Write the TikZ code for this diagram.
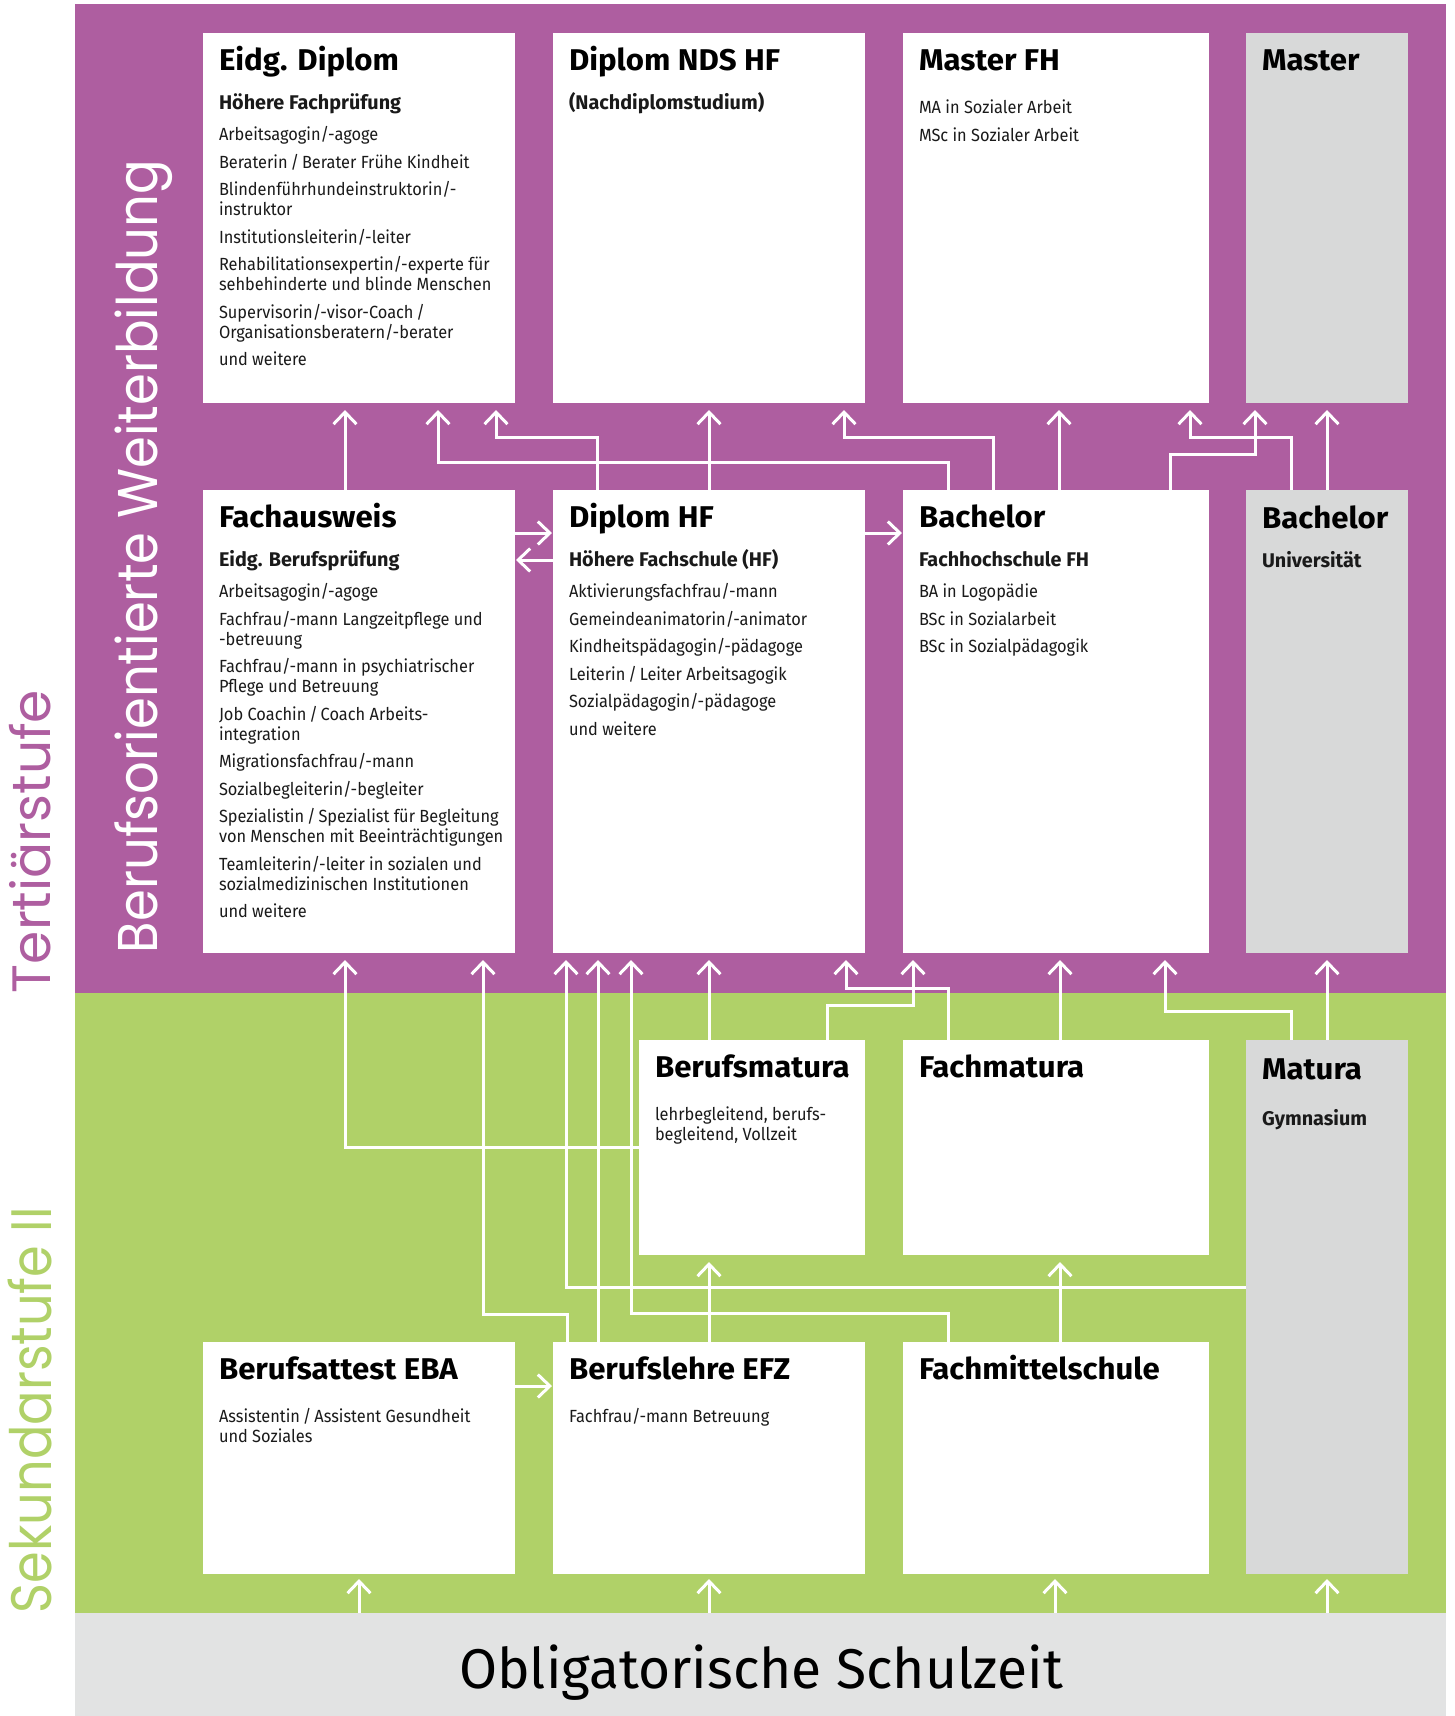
\documentclass[tikz,border=0pt]{standalone}
\usepackage{fontspec}
\setmainfont{Fira Sans}
\newfontfamily\labelfont{Poppins}
\newfontfamily\itemfont[FakeStretch=0.93]{Fira Sans}
\newfontfamily\titlefont[FakeStretch=1.04]{Fira Sans}
\usepackage{graphicx}
\usetikzlibrary{arrows.meta}
\definecolor{purp}{RGB}{174,94,160}
\definecolor{grn}{RGB}{176,209,104}
\definecolor{boxgray}{RGB}{216,217,217}
\definecolor{bandgray}{RGB}{226,227,227}
\definecolor{ink}{RGB}{26,26,26}
\newlength\fitlen
\newcommand\fitto[2]{\settowidth\fitlen{#2}\pgfmathsetmacro\fitsx{#1/\fitlen}\scalebox{\fitsx}[1]{#2}}
\newcommand\itemsbox[1]{\vtop{\hsize=420pt\parindent=0pt\parskip=7.5pt\baselineskip=20pt\leftskip=0pt\rightskip=0pt plus 1fil\relax #1}}
\tikzset{
  region/.style={rectangle, inner sep=0pt, outer sep=0pt, anchor=north west},
  card/.style={rectangle, fill=white, inner sep=0pt, outer sep=0pt, anchor=north west},
  graycard/.style={card, fill=boxgray},
  ttl/.style={anchor=base west, inner sep=0pt, outer sep=0pt, text=black, font=\titlefont\fontsize{30}{32}\selectfont\bfseries},
  subt/.style={anchor=base west, inner sep=0pt, outer sep=0pt, text=ink, font=\fontsize{19.8}{20}\selectfont\bfseries},
  lst/.style={anchor=base west, inner sep=0pt, outer sep=0pt, text=ink, font=\itemfont\fontsize{17.6}{20}\selectfont},
  vlabel/.style={rotate=90, anchor=base west, inner sep=0pt, outer sep=0pt},
  arr/.style={draw=white, line width=3pt, -{Straight Barb[length=12pt,width=23pt]}, shorten >=7pt},
  arrh/.style={draw=white, line width=3pt, -{Straight Barb[length=12pt,width=23pt]}, shorten >=1pt},
}
\begin{document}
\begin{tikzpicture}[x=1pt,y=-1pt]
\useasboundingbox (0,0) rectangle (1454,1716);
\fill[white] (0,0) rectangle (1454,1716);

% regions
\node[region, fill=purp, minimum width=1371pt, minimum height=989pt] (tert) at (75,4) {};
\node[region, fill=grn, minimum width=1371pt, minimum height=620pt] (sek) at (75,993) {};
\node[region, fill=bandgray, minimum width=1371pt, minimum height=103pt] (oblig) at (75,1613) {};

% side labels
\node[vlabel, text=purp, font=\labelfont\fontsize{54}{60}\selectfont] (tertL) at (50,993) {\fitto{303}{Tertiärstufe}};
\node[vlabel, text=grn, font=\labelfont\fontsize{57}{60}\selectfont] (sekL) at (51,1613) {\fitto{406}{Sekundarstufe II}};
\node[vlabel, text=white, font=\labelfont\fontsize{56}{60}\selectfont] (weitL) at (157,953) {\fitto{793}{Berufsorientierte Weiterbildung}};
\node[anchor=base, inner sep=0pt, text=black, font=\fontsize{56}{60}\selectfont] (obligL) at (761,1688) {\fitto{604}{Obligatorische Schulzeit}};

% boxes row 1
\node[card, minimum width=312pt, minimum height=370pt] (eidg) at (203,33) {};
\node[card, minimum width=312pt, minimum height=370pt] (nds) at (553,33) {};
\node[card, minimum width=306pt, minimum height=370pt] (mfh) at (903,33) {};
\node[graycard, minimum width=162pt, minimum height=370pt] (mas) at (1246,33) {};
% row 2
\node[card, minimum width=312pt, minimum height=463pt] (fach) at (203,490) {};
\node[card, minimum width=312pt, minimum height=463pt] (dhf) at (553,490) {};
\node[card, minimum width=306pt, minimum height=463pt] (bfh) at (903,490) {};
\node[graycard, minimum width=162pt, minimum height=463pt] (buni) at (1246,490) {};
% row 3
\node[card, minimum width=226pt, minimum height=215pt] (bm) at (639,1040) {};
\node[card, minimum width=306pt, minimum height=215pt] (fm) at (903,1040) {};
\node[graycard, minimum width=162pt, minimum height=534pt] (mat) at (1246,1040) {};
% row 4
\node[card, minimum width=312pt, minimum height=232pt] (eba) at (203,1342) {};
\node[card, minimum width=312pt, minimum height=232pt] (efz) at (553,1342) {};
\node[card, minimum width=306pt, minimum height=232pt] (fms) at (903,1342) {};

% texts
\node[ttl] (eidgT) at ([shift={(16,37.5)}]eidg.north west) {Eidg. Diplom};
\node[subt] (eidgS) at ([shift={(16,76.5)}]eidg.north west) {Höhere Fachprüfung};
\node[lst] (eidgI) at ([shift={(16,107.5)}]eidg.north west) {\itemsbox{%
Arbeitsagogin/-agoge\par
Beraterin\,/\,Berater Frühe Kindheit\par
Blindenführhundeinstruktorin/-\newline instruktor\par
Institutionsleiterin/-leiter\par
Rehabilitationsexpertin/-experte für\newline sehbehinderte und blinde Menschen\par
Supervisorin/-visor-Coach\,/\newline Organisationsberatern/-berater\par
und weitere}};

\node[ttl] (ndsT) at ([shift={(16,37.5)}]nds.north west) {Diplom NDS HF};
\node[subt] (ndsS) at ([shift={(16,76.5)}]nds.north west) {(Nachdiplomstudium)};

\node[ttl] (mfhT) at ([shift={(16,37.5)}]mfh.north west) {Master FH};
\node[lst] (mfhI) at ([shift={(16,80.5)}]mfh.north west) {\itemsbox{%
MA in Sozialer Arbeit\par
MSc in Sozialer Arbeit}};

\node[ttl] (masT) at ([shift={(16,37.5)}]mas.north west) {Master};

\node[ttl] (fachT) at ([shift={(16,37.5)}]fach.north west) {Fachausweis};
\node[subt] (fachS) at ([shift={(16,76.5)}]fach.north west) {Eidg. Berufsprüfung};
\node[lst] (fachI) at ([shift={(16,107.5)}]fach.north west) {\itemsbox{%
Arbeitsagogin/-agoge\par
Fachfrau/-mann Langzeitpflege und\newline -betreuung\par
Fachfrau/-mann in psychiatrischer\newline Pflege und Betreuung\par
Job Coachin\,/\,Coach Arbeits-\newline integration\par
Migrationsfachfrau/-mann\par
Sozialbegleiterin/-begleiter\par
Spezialistin\,/\,Spezialist für Begleitung\newline von Menschen mit Beeinträchtigungen\par
Teamleiterin/-leiter in sozialen und\newline sozialmedizinischen Institutionen\par
und weitere}};

\node[ttl] (dhfT) at ([shift={(16,37.5)}]dhf.north west) {Diplom HF};
\node[subt] (dhfS) at ([shift={(16,76.5)}]dhf.north west) {Höhere Fachschule (HF)};
\node[lst] (dhfI) at ([shift={(16,107.5)}]dhf.north west) {\itemsbox{%
Aktivierungsfachfrau/-mann\par
Gemeindeanimatorin/-animator\par
Kindheitspädagogin/-pädagoge\par
Leiterin\,/\,Leiter Arbeitsagogik\par
Sozialpädagogin/-pädagoge\par
und weitere}};

\node[ttl] (bfhT) at ([shift={(16,37.5)}]bfh.north west) {Bachelor};
\node[subt] (bfhS) at ([shift={(16,76.5)}]bfh.north west) {Fachhochschule FH};
\node[lst] (bfhI) at ([shift={(16,107.5)}]bfh.north west) {\itemsbox{%
BA in Logopädie\par
BSc in Sozialarbeit\par
BSc in Sozialpädagogik}};

\node[ttl] (buniT) at ([shift={(16,38.5)}]buni.north west) {Bachelor};
\node[subt] (buniS) at ([shift={(16,77.5)}]buni.north west) {Universität};

\node[ttl] (bmT) at ([shift={(16,37.5)}]bm.north west) {Berufsmatura};
\node[lst] (bmI) at ([shift={(16,80.5)}]bm.north west) {\itemsbox{%
lehrbegleitend, berufs-\newline begleitend, Vollzeit}};

\node[ttl] (fmT) at ([shift={(16,37.5)}]fm.north west) {Fachmatura};

\node[ttl] (matT) at ([shift={(16,39)}]mat.north west) {Matura};
\node[subt] (matS) at ([shift={(16,85)}]mat.north west) {Gymnasium};

\node[ttl] (ebaT) at ([shift={(16,37)}]eba.north west) {Berufsattest EBA};
\node[lst] (ebaI) at ([shift={(16,80.5)}]eba.north west) {\itemsbox{%
Assistentin\,/\,Assistent Gesundheit\newline und Soziales}};

\node[ttl] (efzT) at ([shift={(16,37)}]efz.north west) {Berufslehre EFZ};
\node[lst] (efzI) at ([shift={(16,80.5)}]efz.north west) {\itemsbox{%
Fachfrau/-mann Betreuung}};

\node[ttl] (fmsT) at ([shift={(16,37)}]fms.north west) {Fachmittelschule};

% ---- connectors: tertiary, upper gap
\draw[arr] (345,0 |- fach.north) -- (345,0 |- eidg.south);
\draw[arr] (948,0 |- bfh.north) |- (438,462) -- (438,0 |- eidg.south);
\draw[arr] (597,0 |- dhf.north) |- (496,437) -- (496,0 |- eidg.south);
\draw[arr] (709,0 |- dhf.north) -- (709,0 |- nds.south);
\draw[arr] (993,0 |- bfh.north) |- (844,437) -- (844,0 |- nds.south);
\draw[arr] (1059,0 |- bfh.north) -- (1059,0 |- mfh.south);
\draw[arr] (1291,0 |- buni.north) |- (1190,437) -- (1190,0 |- mfh.south);
\draw[arr] (1170,0 |- bfh.north) |- (1255,454) -- (1255,0 |- mas.south);
\draw[arr] (1327,0 |- buni.north) -- (1327,0 |- mas.south);

% horizontal, row 2
\draw[arrh] (fach.east |- 0,533) -- (dhf.west |- 0,533);
\draw[arrh] (dhf.west |- 0,560) -- (fach.east |- 0,560);
\draw[arrh] (dhf.east |- 0,533) -- (bfh.west |- 0,533);

% ---- secondary to tertiary
\draw[arr] (bm.west |- 0,1147) -| (345,0 |- fach.south);
\draw[arr] (567,0 |- efz.north) |- (483,1314) -- (483,0 |- fach.south);
\draw[arr] (mat.west |- 0,1287) -| (566,0 |- dhf.south);
\draw[arr] (598,0 |- efz.north) -- (598,0 |- dhf.south);
\draw[arr] (948,0 |- fms.north) |- (631,1313) -- (631,0 |- dhf.south);
\draw[arr] (709,0 |- bm.north) -- (709,0 |- dhf.south);
\draw[arr] (948,0 |- fm.north) |- (846,988) -- (846,0 |- dhf.south);
\draw[arr] (827,0 |- bm.north) |- (913,1005) -- (913,0 |- bfh.south);
\draw[arr] (1060,0 |- fm.north) -- (1060,0 |- bfh.south);
\draw[arr] (1291,0 |- mat.north) |- (1165,1011) -- (1165,0 |- bfh.south);
\draw[arr] (1327,0 |- mat.north) -- (1327,0 |- buni.south);

% ---- within secondary
\draw[arr] (709,0 |- efz.north) -- (709,0 |- bm.south);
\draw[arr] (1060,0 |- fms.north) -- (1060,0 |- fm.south);
\draw[arrh] (eba.east |- 0,1386) -- (efz.west |- 0,1386);

% ---- compulsory schooling
\draw[arr, shorten >=5pt] (359,0 |- oblig.north) -- (359,0 |- eba.south);
\draw[arr, shorten >=5pt] (709,0 |- oblig.north) -- (709,0 |- efz.south);
\draw[arr, shorten >=5pt] (1055,0 |- oblig.north) -- (1055,0 |- fms.south);
\draw[arr, shorten >=5pt] (1327,0 |- oblig.north) -- (1327,0 |- mat.south);
\end{tikzpicture}
\end{document}
